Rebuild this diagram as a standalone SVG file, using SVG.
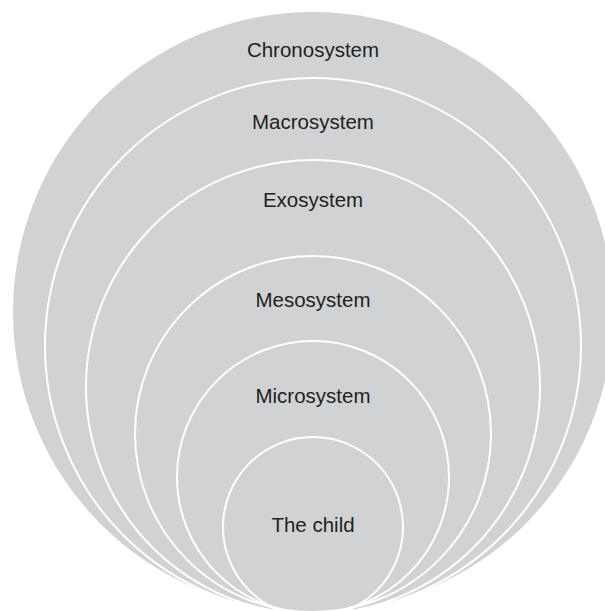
<svg xmlns="http://www.w3.org/2000/svg" width="605" height="611" viewBox="0 0 605 611">
<style>
.ring{fill:none;stroke:#ffffff;stroke-width:2}
.lbl{font-family:"Liberation Sans",Arial,sans-serif;font-size:20.5px;fill:#231f20;text-anchor:middle}
</style>
<rect width="605" height="611" fill="#ffffff"/>
<g id="chronosystem">
<circle cx="313" cy="312" r="300" fill="#d1d2d4"/>
<text class="lbl" x="313" y="57">Chronosystem</text>
</g>
<g id="macrosystem">
<circle class="ring" cx="313" cy="346" r="268"/>
<text class="lbl" x="313" y="129">Macrosystem</text>
</g>
<g id="exosystem">
<circle class="ring" cx="313" cy="387" r="227"/>
<text class="lbl" x="313" y="207">Exosystem</text>
</g>
<g id="mesosystem">
<circle class="ring" cx="313" cy="434" r="178"/>
<text class="lbl" x="313" y="307">Mesosystem</text>
</g>
<g id="microsystem">
<circle class="ring" cx="313" cy="477" r="136"/>
<text class="lbl" x="313" y="403">Microsystem</text>
</g>
<g id="the-child">
<circle class="ring" cx="313" cy="527" r="90"/>
<text class="lbl" x="313" y="532">The child</text>
</g>
<g id="connectors"></g>
</svg>
